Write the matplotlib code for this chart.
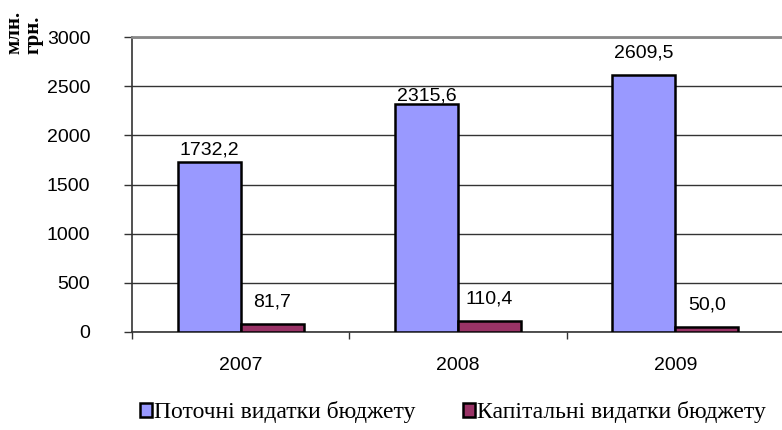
import matplotlib
matplotlib.use("Agg")
import matplotlib.pyplot as plt
import numpy as np

# data (млн. грн.)
years = ["2007", "2008", "2009"]
current_exp = [1732.2, 2315.6, 2609.5]
capital_exp = [81.7, 110.4, 50.0]
series_names = ["Поточні видатки бюджету", "Капітальні видатки бюджету"]

# label offsets in points, as placed in the original
current_off = [2, 0, 10]
capital_off = [10, 10, 10]

BLUE = "#9999FF"
MAROON = "#993366"

fig = plt.figure(figsize=(7.82, 4.30), dpi=100)
ax = fig.add_axes([132 / 782, 98 / 430, 652 / 782, 295 / 430])

x = np.arange(len(years))
w = 0.29
b1 = ax.bar(x - w / 2, current_exp, w, color=BLUE, edgecolor="black", linewidth=1.8,
            label=series_names[0], zorder=3)
b2 = ax.bar(x + w / 2, capital_exp, w, color=MAROON, edgecolor="black", linewidth=1.8,
            label=series_names[1], zorder=3)


def fmt(v):
    return f"{v:.1f}".replace(".", ",")


for bars, vals, offs in ((b1, current_exp, current_off), (b2, capital_exp, capital_off)):
    for bar, val, off in zip(bars, vals, offs):
        ax.annotate(fmt(val), (bar.get_x() + bar.get_width() / 2, bar.get_height()),
                    xytext=(0, off), textcoords="offset points",
                    ha="center", va="bottom", fontsize=14, family="Liberation Sans")

ax.set_xlim(-0.5, 2.5)
ax.set_ylim(0, 3000)
ax.set_yticks(range(0, 3001, 500))
ax.yaxis.grid(True, color="#333333", linewidth=1.0, zorder=0)
ax.set_axisbelow(True)

ax.set_xticks(x)
ax.set_xticklabels(years)
ax.set_xticks([-0.5, 0.5, 1.5, 2.5], minor=True)
ax.tick_params(axis="x", which="major", length=0, pad=18)
ax.tick_params(axis="x", which="minor", length=5, width=1, color="#333333")
ax.tick_params(axis="y", length=6, width=1, color="#333333", pad=24)
for lab in ax.get_xticklabels() + ax.get_yticklabels():
    lab.set_fontsize(14)
    lab.set_family("Liberation Sans")

ax.spines["right"].set_visible(False)
ax.spines["top"].set_color("#888888")
ax.spines["top"].set_linewidth(2)
ax.spines["left"].set_color("#333333")
ax.spines["left"].set_linewidth(1.2)
ax.spines["bottom"].set_color("#333333")
ax.spines["bottom"].set_linewidth(1.2)

fig.text(24 / 782, 1 - 54 / 430, "млн.\nгрн.", rotation=90, ha="center", va="bottom",
         multialignment="left", fontsize=15, fontweight="bold", family="Liberation Serif",
         linespacing=0.95)

fig.legend(handles=[b1, b2], loc="center", bbox_to_anchor=(453 / 782, 1 - 412 / 430),
           ncol=2, frameon=False, handlelength=0.5, handleheight=0.55, handletextpad=0.1,
           columnspacing=2.0, prop={"family": "Liberation Serif", "size": 17})

fig.savefig("out.png", dpi=100)
